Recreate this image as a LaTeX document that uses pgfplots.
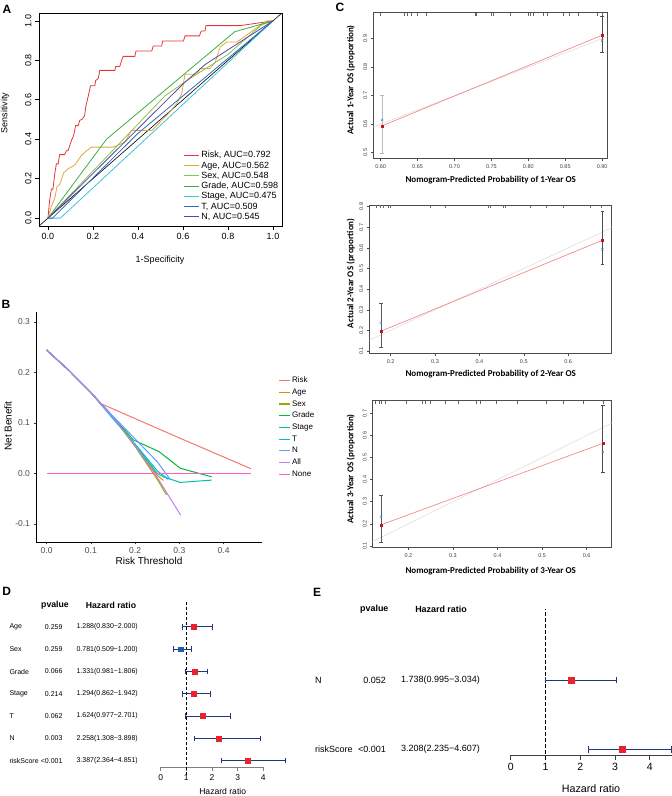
\documentclass[border=0pt]{standalone}
\usepackage{fontspec}
\setmainfont{Liberation Sans}
\newfontfamily\calfont{Carlito}
\usepackage{pgfplots}
\pgfplotsset{compat=1.18}

\definecolor{aRisk}{HTML}{E8363A}
\definecolor{aAge}{HTML}{E5A53A}
\definecolor{aSex}{HTML}{86C44C}
\definecolor{aGrade}{HTML}{3BAE4A}
\definecolor{aStage}{HTML}{42C3D6}
\definecolor{aT}{HTML}{2F6DB5}
\definecolor{aN}{HTML}{5A48A0}
\definecolor{gRisk}{HTML}{F8766D}
\definecolor{gAge}{HTML}{D39200}
\definecolor{gSex}{HTML}{93AA00}
\definecolor{gGrade}{HTML}{00BA38}
\definecolor{gStage}{HTML}{00C19F}
\definecolor{gT}{HTML}{00B9E3}
\definecolor{gN}{HTML}{619CFF}
\definecolor{gAll}{HTML}{C77CEB}
\definecolor{gNone}{HTML}{FF61C3}
\definecolor{fNavy}{HTML}{23357A}
\definecolor{fRed}{HTML}{E8222E}
\definecolor{fBlue}{HTML}{1F5CAB}
\definecolor{cLine}{HTML}{F27C7C}
\definecolor{cDot}{HTML}{C8101A}
\definecolor{cX}{HTML}{5A80C4}

\newcommand{\fs}[1]{\fontsize{#1}{#1}\selectfont}

\pgfplotsset{
  /pgf/number format/assume math mode=true,
  every axis/.append style={scale only axis, anchor=south west},
  rbox/.style={tick pos=left, tick align=outside, major tick length=3pt,
    axis line style={line width=0.6pt}, every tick/.style={black, line width=0.6pt}},
  dec1/.style={ticklabel style={/pgf/number format/fixed, /pgf/number format/fixed zerofill, /pgf/number format/precision=1}},
  dec2/.style={xticklabel style={/pgf/number format/fixed, /pgf/number format/fixed zerofill, /pgf/number format/precision=2}},
  calib/.style={rbox, dec1, axis line style={black!70, line width=0.6pt},
    every tick/.style={black!70, line width=0.5pt}, major tick length=2.5pt,
    ticklabel style={font=\fs{5.5}, text=black!75},
    yticklabel style={rotate=90, anchor=south}},
  rug/.style={only marks, mark=|, mark size=1.5pt, black!60, mark options={line width=0.4pt}},
  forest/.style={hide y axis, axis x line*=bottom, tick align=outside,
    major tick length=4pt, xtick={0,1,2,3,4}, clip=false, minor tick num=0},
}

\begin{document}
\begin{tikzpicture}
\useasboundingbox (0pt,0pt) rectangle (672pt,796pt);

% ================= A: ROC =================
\node[font=\bfseries\fs{12}] at (7pt,787pt) {A};
\begin{axis}[at={(39pt,570pt)}, width=243pt, height=213pt, rbox, dec1,
  xmin=-0.04, xmax=1.04, ymin=-0.04, ymax=1.04,
  xtick={0,0.2,0.4,0.6,0.8,1}, ytick={0,0.2,0.4,0.6,0.8,1},
  major tick length=4pt,
  ticklabel style={font=\fs{9}}, yticklabel style={rotate=90, anchor=south},
  legend cell align=left,
  legend style={at={(0.585,0.37)}, anchor=north west, draw=none, fill=none,
    font=\fs{9}, row sep=-1.6pt},
  legend image code/.code={\fill[#1, draw=none] (0pt,-0.5pt) rectangle (15pt,0.5pt);},
  every axis plot/.append style={line width=0.8pt},
]
\addplot[black, line width=0.6pt, forget plot] coordinates {(-0.04,-0.04) (1.04,1.04)};
\addplot[aRisk] coordinates {(0,0) (0.007,0.088) (0.015,0.147) (0.022,0.147) (0.030,0.224) (0.037,0.275) (0.045,0.275) (0.052,0.322) (0.074,0.322) (0.082,0.342) (0.089,0.342) (0.097,0.368) (0.104,0.393) (0.114,0.419) (0.123,0.469) (0.134,0.469) (0.141,0.495) (0.153,0.503) (0.163,0.520) (0.168,0.566) (0.178,0.614) (0.189,0.671) (0.208,0.671) (0.212,0.698) (0.223,0.707) (0.230,0.749) (0.297,0.749) (0.301,0.769) (0.319,0.769) (0.327,0.800) (0.334,0.820) (0.386,0.820) (0.391,0.847) (0.461,0.847) (0.468,0.873) (0.505,0.873) (0.510,0.898) (0.602,0.898) (0.609,0.924) (0.673,0.924) (0.681,0.949) (0.698,0.949) (0.702,0.976) (0.854,0.976) (1,1)};
\addlegendentry{Risk, AUC=0.792}
\addplot[aAge] coordinates {(0,0) (0.015,0.059) (0.030,0.100) (0.040,0.160) (0.052,0.170) (0.070,0.230) (0.090,0.250) (0.120,0.270) (0.150,0.320) (0.170,0.340) (0.193,0.360) (0.290,0.360) (0.342,0.385) (0.371,0.444) (0.461,0.444) (0.527,0.520) (0.572,0.580) (0.594,0.630) (0.609,0.729) (0.661,0.729) (0.676,0.758) (0.720,0.758) (0.743,0.790) (0.765,0.868) (0.795,0.893) (0.840,0.893) (0.944,0.978) (0.973,1) (1,1)};
\addlegendentry{Age, AUC=0.562}
\addplot[aSex] coordinates {(0,0) (0.52,0.62) (0.62,0.70) (0.80,0.83) (0.95,0.98) (1,1)};
\addlegendentry{Sex, AUC=0.548}
\addplot[aGrade] coordinates {(0,0) (0.26,0.40) (0.83,0.945) (1,1)};
\addlegendentry{Grade, AUC=0.598}
\addplot[aStage] coordinates {(0,0) (0.055,0) (1,1)};
\addlegendentry{Stage, AUC=0.475}
\addplot[aT] coordinates {(0,0) (0.02,0) (0.40,0.43) (1,1)};
\addlegendentry{T, AUC=0.509}
\addplot[aN] coordinates {(0,0) (0.60,0.68) (0.70,0.78) (1,1)};
\addlegendentry{N, AUC=0.545}
\end{axis}
\node[font=\fs{9}] at (160pt,536pt) {1-Specificity};
\node[font=\fs{9}, rotate=90] at (5pt,683pt) {Sensitivity};

% ================= B: DCA =================
\node[font=\bfseries\fs{12}] at (6pt,492pt) {B};
\begin{axis}[at={(36pt,254pt)}, width=225.7pt, height=230.3pt,
  axis x line*=bottom, axis y line*=left, axis line style={line width=0.6pt, black},
  tick align=outside, major tick length=2.5pt, every tick/.style={black!80, line width=0.5pt},
  xmin=-0.024, xmax=0.486, ymin=-0.136, ymax=0.32,
  xtick={0,0.1,0.2,0.3,0.4}, ytick={-0.1,0,0.1,0.2,0.3}, dec1,
  ticklabel style={font=\fs{8.5}, text=black!70},
  legend cell align=left,
  legend style={at={(1.063,0.735)}, anchor=north west, draw=none, fill=none,
    font=\fs{8}, row sep=0.6pt},
  legend image code/.code={\fill[#1, draw=none] (0pt,-0.6pt) rectangle (11pt,0.6pt);},
  every axis plot/.append style={line width=1pt},
]
\addplot[gRisk] coordinates {(0,0.244) (0.05,0.204) (0.1,0.160) (0.12,0.139) (0.3,0.070) (0.462,0.009)};
\addlegendentry{Risk}
\addplot[gAge] coordinates {(0,0.244) (0.05,0.204) (0.1,0.160) (0.15,0.111) (0.2,0.055) (0.25,-0.004) (0.264,-0.014)};
\addlegendentry{Age}
\addplot[gSex] coordinates {(0,0.244) (0.05,0.204) (0.1,0.160) (0.15,0.111) (0.2,0.053) (0.25,-0.012) (0.271,-0.043)};
\addlegendentry{Sex}
\addplot[gGrade] coordinates {(0,0.244) (0.05,0.204) (0.1,0.160) (0.15,0.112) (0.196,0.066) (0.254,0.043) (0.302,0.010) (0.373,-0.007)};
\addlegendentry{Grade}
\addplot[gStage] coordinates {(0,0.244) (0.05,0.204) (0.1,0.160) (0.15,0.111) (0.2,0.056) (0.25,0.0) (0.264,-0.007) (0.302,-0.018) (0.373,-0.0135)};
\addlegendentry{Stage}
\addplot[gT] coordinates {(0,0.244) (0.05,0.204) (0.1,0.160) (0.15,0.108) (0.2,0.058) (0.25,0.005) (0.275,-0.012)};
\addlegendentry{T}
\addplot[gN] coordinates {(0,0.244) (0.05,0.204) (0.1,0.160) (0.15,0.113) (0.2,0.068) (0.25,0.023) (0.279,-0.012)};
\addlegendentry{N}
\addplot[gAll] coordinates {(0,0.244) (0.05,0.204) (0.1,0.160) (0.15,0.111) (0.2,0.055) (0.25,-0.008) (0.303,-0.083)};
\addlegendentry{All}
\addplot[gNone] coordinates {(0,0) (0.462,0)};
\addlegendentry{None}
\end{axis}
\node[font=\fs{10}, rotate=90] at (8pt,370pt) {Net Benefit};
\node[font=\fs{10}] at (149pt,235pt) {Risk Threshold};

% ================= C: calibration =================
\node[font=\bfseries\fs{12}] at (340pt,789pt) {C};
\begin{axis}[at={(373.3pt,637.7pt)}, width=234pt, height=145.6pt, calib, dec2,
  xmin=0.590, xmax=0.907, ymin=0.48, ymax=0.991,
  xtick={0.6,0.65,0.7,0.75,0.8,0.85,0.9}, ytick={0.5,0.6,0.7,0.8,0.9}]
\addplot[gray!25, line width=0.6pt] coordinates {(0.48,0.48) (0.991,0.991)};
\addplot[rug] coordinates {(0.600,0.986) (0.632,0.986) (0.636,0.986) (0.642,0.986) (0.649,0.986) (0.662,0.986) (0.728,0.986) (0.730,0.986) (0.750,0.986) (0.753,0.986) (0.775,0.986) (0.800,0.986) (0.802,0.986) (0.807,0.986) (0.820,0.986) (0.825,0.986) (0.847,0.986) (0.856,0.986) (0.868,0.986) (0.893,0.986) (0.900,0.986)};
\addplot[gray!55, line width=0.6pt, mark=-, mark size=1.8pt] coordinates {(0.602,0.498) (0.602,0.702)};
\addplot[black!70, line width=0.6pt, mark=-, mark size=1.8pt] coordinates {(0.900,0.852) (0.900,0.980)};
\addplot[cLine, line width=0.6pt] coordinates {(0.602,0.594) (0.900,0.912)};
\addplot[only marks, cX, mark=x, mark size=1.6pt] coordinates {(0.602,0.615) (0.900,0.893)};
\addplot[only marks, cDot, mark=square*, mark size=1pt] coordinates {(0.602,0.594) (0.900,0.912)};
\end{axis}
\node[font=\calfont\bfseries\fs{9}, rotate=90] at (350.7pt,716pt) {Actual 1-Year OS (proportion)};
\node[font=\calfont\bfseries\fs{9}] at (490.7pt,616pt) {Nomogram-Predicted Probability of 1-Year OS};

\begin{axis}[at={(369.3pt,442.7pt)}, width=242.4pt, height=148.3pt, calib,
  xmin=0.152, xmax=0.698, ymin=0.089, ymax=0.808,
  xtick={0.2,0.3,0.4,0.5,0.6}, ytick={0.1,0.2,0.3,0.4,0.5,0.6,0.7,0.8}]
\addplot[gray!25, line width=0.6pt] coordinates {(0.089,0.089) (0.808,0.808)};
\addplot[rug] coordinates {(0.168,0.801) (0.176,0.801) (0.183,0.801) (0.195,0.801) (0.198,0.801) (0.289,0.801) (0.322,0.801) (0.420,0.801) (0.424,0.801) (0.454,0.801) (0.457,0.801) (0.514,0.801) (0.551,0.801) (0.589,0.801) (0.649,0.801) (0.675,0.801)};
\addplot[black!65, line width=0.6pt, mark=-, mark size=1.8pt] coordinates {(0.178,0.116) (0.178,0.331)};
\addplot[black!70, line width=0.6pt, mark=-, mark size=1.8pt] coordinates {(0.677,0.522) (0.677,0.777)};
\addplot[cLine, line width=0.6pt] coordinates {(0.178,0.196) (0.677,0.637)};
\addplot[only marks, cX, mark=x, mark size=1.6pt] coordinates {(0.178,0.237) (0.677,0.593)};
\addplot[only marks, cDot, mark=square*, mark size=1pt] coordinates {(0.178,0.196) (0.677,0.637)};
\end{axis}
\node[font=\calfont\bfseries\fs{9}, rotate=90] at (350.7pt,522.7pt) {Actual 2-Year OS (proportion)};
\node[font=\calfont\bfseries\fs{9}] at (490.7pt,421.7pt) {Nomogram-Predicted Probability of 2-Year OS};

\begin{axis}[at={(372.7pt,248.7pt)}, width=239pt, height=146.6pt, calib,
  xmin=0.120, xmax=0.656, ymin=0.094, ymax=0.757,
  xtick={0.2,0.3,0.4,0.5,0.6}, ytick={0.1,0.2,0.3,0.4,0.5,0.6,0.7}]
\addplot[gray!25, line width=0.6pt] coordinates {(0.094,0.094) (0.757,0.757)};
\addplot[rug] coordinates {(0.125,0.750) (0.135,0.750) (0.140,0.750) (0.148,0.750) (0.196,0.750) (0.230,0.750) (0.237,0.750) (0.249,0.750) (0.282,0.750) (0.312,0.750) (0.353,0.750) (0.361,0.750) (0.398,0.750) (0.443,0.750) (0.510,0.750) (0.548,0.750) (0.592,0.750) (0.637,0.750)};
\addplot[black!65, line width=0.6pt, mark=-, mark size=1.8pt] coordinates {(0.139,0.117) (0.139,0.329)};
\addplot[black!70, line width=0.6pt, mark=-, mark size=1.8pt] coordinates {(0.636,0.435) (0.636,0.735)};
\addplot[cLine, line width=0.6pt] coordinates {(0.139,0.196) (0.636,0.564)};
\addplot[only marks, cX, mark=x, mark size=1.6pt] coordinates {(0.139,0.232) (0.636,0.524)};
\addplot[only marks, cDot, mark=square*, mark size=1pt] coordinates {(0.139,0.196) (0.636,0.564)};
\end{axis}
\node[font=\calfont\bfseries\fs{9}, rotate=90] at (350.7pt,327pt) {Actual 3-Year OS (proportion)};
\node[font=\calfont\bfseries\fs{9}] at (490.7pt,225.3pt) {Nomogram-Predicted Probability of 3-Year OS};

% ================= D: forest =================
\node[font=\bfseries\fs{12}] at (6.7pt,205pt) {D};
\begin{axis}[at={(160.7pt,28.7pt)}, width=102.6pt, height=165.6pt, forest,
  xmin=0, xmax=4, ymin=0.704, ymax=8.13,
  x axis line style={gray, line width=0.8pt}, every tick/.style={gray, line width=0.8pt},
  ticklabel style={font=\fs{8.5}}]
\addplot[black, dashed, line width=0.8pt, dash pattern=on 3pt off 2pt] coordinates {(1,0.36) (1,8.13)};
\addplot[fNavy, line width=0.9pt, mark=|, mark size=2.8pt] coordinates {(0.830,7) (2.000,7)};
\addplot[fNavy, line width=0.9pt, mark=|, mark size=2.8pt] coordinates {(0.509,6) (1.200,6)};
\addplot[fNavy, line width=0.9pt, mark=|, mark size=2.8pt] coordinates {(0.981,5) (1.806,5)};
\addplot[fNavy, line width=0.9pt, mark=|, mark size=2.8pt] coordinates {(0.862,4) (1.942,4)};
\addplot[fNavy, line width=0.9pt, mark=|, mark size=2.8pt] coordinates {(0.977,3) (2.701,3)};
\addplot[fNavy, line width=0.9pt, mark=|, mark size=2.8pt] coordinates {(1.308,2) (3.898,2)};
\addplot[fNavy, line width=0.9pt, mark=|, mark size=2.8pt] coordinates {(2.364,1) (4.851,1)};
\addplot[only marks, fRed, mark=square*, mark size=2.4pt] coordinates {(1.288,7) (1.331,5) (1.294,4) (1.624,3) (2.258,2) (3.387,1)};
\addplot[only marks, fBlue, mark=square*, mark size=2.4pt] coordinates {(0.781,6)};
\end{axis}
\node[font=\bfseries\fs{8.7}] at (55pt,191pt) {pvalue};
\node[font=\bfseries\fs{8.7}] at (111pt,191pt) {Hazard ratio};
\begin{scope}[every node/.style={font=\fs{7}}]
\node[anchor=west] at (6pt,169.1pt) {Age};
\node[anchor=west] at (6pt,146.8pt) {Sex};
\node[anchor=west] at (6pt,124.5pt) {Grade};
\node[anchor=west] at (6pt,102.2pt) {Stage};
\node[anchor=west] at (6pt,79.9pt) {T};
\node[anchor=west] at (6pt,57.6pt) {N};
\node[anchor=west] at (6pt,35.3pt) {riskScore};
\node[anchor=east] at (66pt,169.1pt) {0.259};
\node[anchor=east] at (66pt,146.8pt) {0.259};
\node[anchor=east] at (66pt,124.5pt) {0.066};
\node[anchor=east] at (66pt,102.2pt) {0.214};
\node[anchor=east] at (66pt,79.9pt) {0.062};
\node[anchor=east] at (66pt,57.6pt) {0.003};
\node[anchor=east] at (66pt,35.3pt) {<0.001};
\node[anchor=west] at (73pt,169.1pt) {1.288(0.830−2.000)};
\node[anchor=west] at (73pt,146.8pt) {0.781(0.509−1.200)};
\node[anchor=west] at (73pt,124.5pt) {1.331(0.981−1.806)};
\node[anchor=west] at (73pt,102.2pt) {1.294(0.862−1.942)};
\node[anchor=west] at (73pt,79.9pt) {1.624(0.977−2.701)};
\node[anchor=west] at (73pt,57.6pt) {2.258(1.308−3.898)};
\node[anchor=west] at (73pt,35.3pt) {3.387(2.364−4.851)};
\end{scope}
\node[font=\fs{8.6}] at (222.7pt,5pt) {Hazard ratio};

% ================= E: forest =================
\node[font=\bfseries\fs{12}] at (317pt,204pt) {E};
\begin{axis}[at={(510.7pt,41pt)}, width=161.8pt, height=146pt, forest,
  xmin=0, xmax=4.65, ymin=0.918, ymax=3.025,
  x axis line style={black!75, line width=0.8pt}, every tick/.style={black!75, line width=0.8pt},
  major tick length=5pt, ticklabel style={font=\fs{10.5}}]
\addplot[black, dashed, line width=0.8pt, dash pattern=on 3.5pt off 2.5pt] coordinates {(1,0.846) (1,3.025)};
\addplot[fNavy, line width=1pt, mark=|, mark size=3.2pt] coordinates {(0.995,2) (3.034,2)};
\addplot[fNavy, line width=1pt, mark=|, mark size=3.2pt] coordinates {(2.235,1) (4.607,1)};
\addplot[only marks, fRed, mark=square*, mark size=3pt] coordinates {(1.738,2) (3.208,1)};
\end{axis}
\node[font=\bfseries\fs{8.9}] at (374.3pt,186.7pt) {pvalue};
\node[font=\bfseries\fs{8.9}] at (441pt,186.7pt) {Hazard ratio};
\begin{scope}[every node/.style={font=\fs{9}}]
\node[anchor=west] at (311.7pt,116pt) {N};
\node[anchor=west] at (311.7pt,46.7pt) {riskScore};
\node[anchor=east] at (389.5pt,116pt) {0.052};
\node[anchor=east] at (389.5pt,46.7pt) {<0.001};
\node[anchor=west] at (397.5pt,116pt) {1.738(0.995−3.034)};
\node[anchor=west] at (397.5pt,46.7pt) {3.208(2.235−4.607)};
\end{scope}
\node[font=\fs{10.7}] at (591pt,7.7pt) {Hazard ratio};
\end{tikzpicture}
\end{document}
